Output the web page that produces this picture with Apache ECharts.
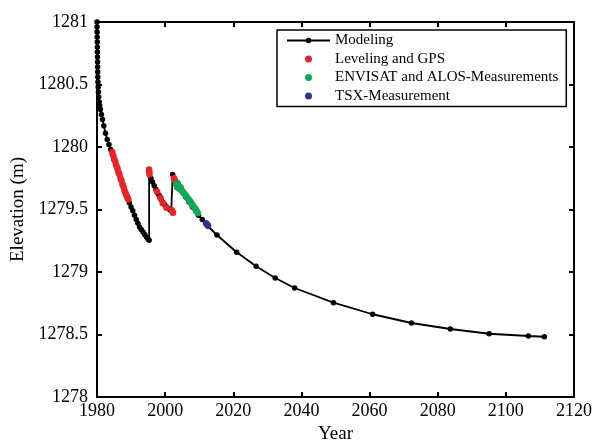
<!DOCTYPE html>
<html>
<head>
<meta charset="utf-8">
<script src="https://cdn.jsdelivr.net/npm/echarts@6/dist/echarts.min.js"></script>
<style>
html,body{margin:0;padding:0;background:#fff;}
#chart{width:598px;height:442px;}
</style>
</head>
<body>
<div id="chart"></div>
<script>
// ---- Data ----
var xTicks = [1980, 2000, 2020, 2040, 2060, 2080, 2100, 2120];
var yTicks = [1278, 1278.5, 1279, 1279.5, 1280, 1280.5, 1281];

var modelYears = [
  1980.00, 1980.02, 1980.04, 1980.06, 1980.08, 1980.10, 1980.12, 1980.14, 1980.16, 1980.18,
  1980.20, 1980.24, 1980.28, 1980.34, 1980.42, 1980.52, 1980.65, 1980.80, 1981.0, 1981.3,
  1981.6, 1982.0, 1982.5, 1983.0, 1983.5, 1984.0, 1984.5, 1985.0, 1985.5, 1986.0,
  1986.5, 1987.0, 1987.5, 1988.0, 1988.5, 1989.0, 1989.5, 1990.0, 1990.5, 1991.0,
  1991.5, 1992.0, 1992.5, 1993.0, 1993.5, 1994.0, 1994.5, 1995.0, 1995.3,
  1995.3, 1995.8, 1996.3, 1996.8, 1997.3, 1997.8, 1998.3, 1998.8, 1999.3, 1999.8,
  2000.3, 2000.8, 2001.3, 2001.8, 2002.2,
  2002.2, 2003.0, 2004.0, 2005.0, 2006.0, 2007.0, 2008.0, 2009.0, 2009.8, 2010.9,
  2012.4, 2015.2, 2021.0, 2026.7, 2032.3, 2038.0, 2049.4, 2060.9, 2072.3, 2083.7,
  2095.1, 2106.6, 2111.3
];
var modelElev = [
  1281.00, 1280.96, 1280.92, 1280.88, 1280.84, 1280.80, 1280.76, 1280.72, 1280.68, 1280.64,
  1280.60, 1280.56, 1280.52, 1280.48, 1280.44, 1280.40, 1280.36, 1280.33, 1280.30, 1280.26,
  1280.22, 1280.17, 1280.11, 1280.06, 1280.02, 1279.98, 1279.94, 1279.90, 1279.86, 1279.82,
  1279.78, 1279.74, 1279.70, 1279.66, 1279.62, 1279.59, 1279.555, 1279.52, 1279.49, 1279.455,
  1279.42, 1279.39, 1279.36, 1279.34, 1279.32, 1279.30, 1279.28, 1279.265, 1279.255,
  1279.80, 1279.75, 1279.72, 1279.69, 1279.66, 1279.63, 1279.61, 1279.58, 1279.56, 1279.54,
  1279.525, 1279.51, 1279.50, 1279.49, 1279.48,
  1279.78, 1279.735, 1279.69, 1279.645, 1279.60, 1279.56, 1279.52, 1279.49, 1279.455, 1279.42,
  1279.37, 1279.296, 1279.158, 1279.046, 1278.952, 1278.872, 1278.755, 1278.662, 1278.592, 1278.544,
  1278.506, 1278.488, 1278.482
];

var levelYears = [
  1984.5, 1984.8, 1985.1, 1985.4, 1985.7, 1986.0, 1986.3, 1986.6, 1986.9, 1987.2,
  1987.5, 1987.8, 1988.1, 1988.4, 1988.7, 1989.0, 1989.2,
  1995.3, 1995.35, 1995.4,
  1997.6, 1998.6, 1999.3, 2000.4, 2002.0, 2002.3,
  2002.6, 2002.9
];
var levelElev = [
  1279.96, 1279.93, 1279.90, 1279.88, 1279.85, 1279.83, 1279.80, 1279.78, 1279.75, 1279.73,
  1279.70, 1279.68, 1279.65, 1279.63, 1279.61, 1279.59, 1279.58,
  1279.82, 1279.80, 1279.78,
  1279.645, 1279.595, 1279.55, 1279.515, 1279.495, 1279.475,
  1279.75, 1279.73
];

var envYears = [
  2003.3, 2003.5, 2003.7, 2003.9, 2004.2, 2004.4, 2004.6, 2004.8, 2005.1, 2005.4,
  2005.7, 2006.0, 2006.3, 2006.6, 2006.9, 2007.2, 2007.5, 2007.8, 2008.1, 2008.4,
  2008.7, 2009.0, 2009.3, 2009.6
];
var envElev = [
  1279.70, 1279.68, 1279.71, 1279.67, 1279.685, 1279.665, 1279.675, 1279.655, 1279.645, 1279.635,
  1279.625, 1279.615, 1279.60, 1279.59, 1279.58, 1279.57, 1279.56, 1279.545, 1279.535, 1279.52,
  1279.51, 1279.50, 1279.485, 1279.47
];

var tsxYears = [2012.0, 2012.3, 2012.6];
var tsxElev = [1279.39, 1279.38, 1279.37];

function pairs(xs, ys) { return xs.map(function (x, i) { return [x, ys[i]]; }); }

var serif = '"Liberation Serif", "Times New Roman", serif';
var chart = echarts.init(document.getElementById('chart'), null, { renderer: 'canvas' });

var axisLineStyle = { color: '#000', width: 2 };

chart.setOption({
  animation: false,
  backgroundColor: '#fff',
  grid: { left: 97, right: 24, top: 22, bottom: 45, containLabel: false, outerBoundsMode: 'none' },
  legend: {
    orient: 'vertical',
    left: 277,
    top: 30,
    width: 300,
    padding: [3, 8, 3, 9],
    itemWidth: 43,
    itemHeight: 7,
    itemGap: 3.5,
    borderColor: '#000',
    borderWidth: 1.5,
    backgroundColor: '#fff',
    textStyle: { fontFamily: serif, fontSize: 15, color: '#000' },
    data: ['Modeling', 'Leveling and GPS', 'ENVISAT and ALOS-Measurements', 'TSX-Measurement']
  },
  xAxis: [{
    type: 'value', min: xTicks[0], max: xTicks[xTicks.length - 1], interval: xTicks[1] - xTicks[0],
    position: 'bottom',
    name: 'Year', nameLocation: 'middle', nameGap: 25,
    nameTextStyle: { fontFamily: serif, fontSize: 19, color: '#000' },
    axisLine: { show: true, onZero: false, lineStyle: axisLineStyle },
    axisTick: { show: true, inside: true, length: 5, lineStyle: axisLineStyle },
    axisLabel: { fontFamily: serif, fontSize: 18, color: '#000', margin: 5, formatter: function (v) { return String(v); } },
    splitLine: { show: false }
  }, {
    type: 'value', min: xTicks[0], max: xTicks[xTicks.length - 1], interval: xTicks[1] - xTicks[0],
    position: 'top',
    axisLine: { show: true, onZero: false, lineStyle: axisLineStyle },
    axisTick: { show: true, inside: true, length: 5, lineStyle: axisLineStyle },
    axisLabel: { show: false },
    splitLine: { show: false }
  }],
  yAxis: [{
    type: 'value', min: yTicks[0], max: yTicks[yTicks.length - 1], interval: yTicks[1] - yTicks[0],
    position: 'left',
    name: 'Elevation (m)', nameLocation: 'middle', nameGap: 67,
    nameTextStyle: { fontFamily: serif, fontSize: 19, color: '#000' },
    axisLine: { show: true, onZero: false, lineStyle: axisLineStyle },
    axisTick: { show: true, inside: true, length: 5, lineStyle: axisLineStyle },
    axisLabel: { fontFamily: serif, fontSize: 18, color: '#000', margin: 9, formatter: function (v) { return String(v); } },
    splitLine: { show: false }
  }, {
    type: 'value', min: yTicks[0], max: yTicks[yTicks.length - 1], interval: yTicks[1] - yTicks[0],
    position: 'right',
    axisLine: { show: true, onZero: false, lineStyle: axisLineStyle },
    axisTick: { show: true, inside: true, length: 5, lineStyle: axisLineStyle },
    axisLabel: { show: false },
    splitLine: { show: false }
  }],
  series: [{
    name: 'Modeling',
    type: 'line',
    data: pairs(modelYears, modelElev),
    symbol: 'circle',
    symbolSize: 5.5,
    showSymbol: true,
    lineStyle: { color: '#000', width: 1.8 },
    itemStyle: { color: '#000' },
    z: 2
  }, {
    name: 'Leveling and GPS',
    type: 'scatter',
    data: pairs(levelYears, levelElev),
    symbol: 'circle',
    symbolSize: 6.5,
    itemStyle: { color: '#ec2227', opacity: 1 },
    z: 3
  }, {
    name: 'ENVISAT and ALOS-Measurements',
    type: 'scatter',
    data: pairs(envYears, envElev),
    symbol: 'circle',
    symbolSize: 6.5,
    itemStyle: { color: '#12a65a', opacity: 1 },
    z: 3
  }, {
    name: 'TSX-Measurement',
    type: 'scatter',
    data: pairs(tsxYears, tsxElev),
    symbol: 'circle',
    symbolSize: 6.5,
    itemStyle: { color: '#2e3591', opacity: 1 },
    z: 3
  }]
});
</script>
</body>
</html>
